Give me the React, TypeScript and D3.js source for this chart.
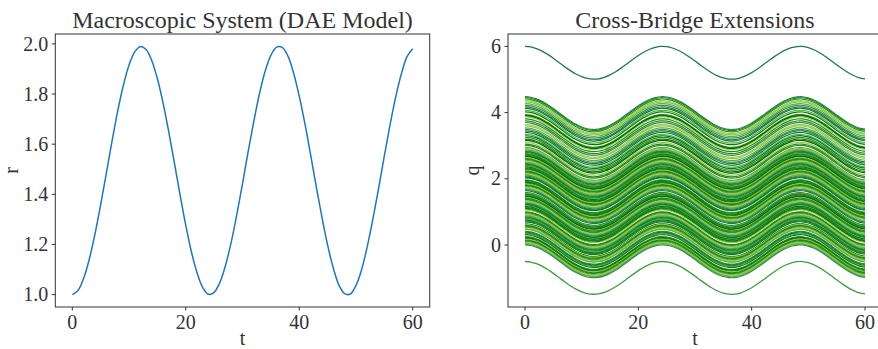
import * as d3 from 'd3';

// macroscopic r(t), every 1 time unit
const tValues = d3.range(0, 61);
const rValues = [
  1.0, 1.016, 1.065, 1.142, 1.242, 1.359, 1.485, 1.612, 1.732, 1.835, 1.916,
  1.968, 1.99, 1.978, 1.934, 1.861, 1.764, 1.649, 1.524, 1.397, 1.276,
  1.17, 1.086, 1.028, 1.001, 1.009, 1.048, 1.116, 1.208, 1.32, 1.442,
  1.571, 1.692, 1.802, 1.892, 1.954, 1.987, 1.986, 1.952, 1.884, 1.792,
  1.682, 1.559, 1.431, 1.309, 1.198, 1.106, 1.038, 1.004, 1.002, 1.036,
  1.1, 1.192, 1.303, 1.425, 1.553, 1.676, 1.788, 1.88, 1.949, 1.981
];

// initial cross-bridge extensions q(0)
const bandOffsets = [
  4.48, 4.45, 4.41, 4.36, 4.32, 4.27, 4.22, 4.17, 4.13, 4.07, 4.02, 3.94, 3.92, 3.9,
  3.87, 3.81, 3.75, 3.7, 3.64, 3.6, 3.54, 3.49, 3.45, 3.4, 3.34, 3.3, 3.25, 3.2,
  3.16, 3.1, 3.05, 3.01,
  2.94, 2.92, 2.89, 2.87, 2.84, 2.82, 2.79, 2.77, 2.74, 2.72, 2.69, 2.67, 2.64, 2.61,
  2.59, 2.56, 2.54, 2.51, 2.49, 2.46, 2.44, 2.41, 2.39, 2.36, 2.33, 2.31, 2.28, 2.26,
  2.23, 2.21, 2.18, 2.16, 2.13, 2.11, 2.08, 2.05, 2.03,
  1.97, 1.95, 1.92, 1.9, 1.87, 1.85, 1.82, 1.8, 1.77, 1.75, 1.72, 1.69, 1.67, 1.64,
  1.58, 1.56, 1.53, 1.51, 1.48, 1.46, 1.43, 1.41, 1.38, 1.36, 1.33, 1.31, 1.28, 1.26,
  1.23, 1.21, 1.18, 1.16, 1.13, 1.11, 1.08, 1.06,
  1.0, 0.98, 0.95, 0.93, 0.9, 0.88, 0.85, 0.83, 0.8, 0.78, 0.75, 0.73, 0.7,
  0.64, 0.62, 0.59, 0.57, 0.54, 0.52, 0.49, 0.47,
  0.41, 0.39, 0.36, 0.34, 0.31,
  0.25, 0.23, 0.2, 0.18, 0.15, 0.13, 0.1, 0.08, 0.05, 0.03, 0.0
];
const outlierOffsets = [6.0, -0.5];

const xTicks = [0, 20, 40, 60];
const rTicks = [1.0, 1.2, 1.4, 1.6, 1.8, 2.0];
const qTicks = [0, 2, 4, 6];

const greens = ['#228b22', '#1a7f3c', '#9acd32', '#008000', '#2e8b57', '#006400', '#5cb03c', '#1e8a1e', '#0f7a2a', '#86c94a'];
const outlierColors = ['#1f7a45', '#3f9c3f'];

const W = 878;
const H = 349;
const TOP = 34;
const BOTTOM = 307;
const FONT = '"Liberation Serif", "Times New Roman", serif';
const INK = '#333';

function Panel({ x0, x1, yDomain, yTicks, yFmt, yLabel, yLabelX, title, children }) {
  const x = d3.scaleLinear().domain([-3, 63]).range([x0, x1]);
  const y = d3.scaleLinear().domain(yDomain).range([BOTTOM, TOP]);
  return (
    <g>
      {children(x, y)}
      <rect x={x0} y={TOP} width={x1 - x0} height={BOTTOM - TOP} fill="none" stroke={INK} strokeWidth={1} />
      {xTicks.map((t) => (
        <g key={t} transform={`translate(${x(t)},${BOTTOM})`}>
          <line y2={3.5} stroke={INK} />
          <text y={22} textAnchor="middle" fontSize={20} fill={INK}>{t}</text>
        </g>
      ))}
      {yTicks.map((v) => (
        <g key={v} transform={`translate(${x0},${y(v)})`}>
          <line x2={-3.5} stroke={INK} />
          <text x={-7} dy="0.33em" textAnchor="end" fontSize={20} fill={INK}>{yFmt(v)}</text>
        </g>
      ))}
      <text x={(x0 + x1) / 2} y={345} textAnchor="middle" fontSize={20} fill={INK}>t</text>
      <text transform={`translate(${yLabelX},${(TOP + BOTTOM) / 2}) rotate(-90)`} textAnchor="middle" fontSize={20} fill={INK}>{yLabel}</text>
      <text x={(x0 + x1) / 2} y={28} textAnchor="middle" fontSize={24} fill={INK}>{title}</text>
    </g>
  );
}

export default function App() {
  const pts = tValues.map((t, i) => [t, rValues[i]]);
  return (
    <svg width={W} height={H} style={{ position: 'absolute', left: 0, top: 0, background: '#fff' }} fontFamily={FONT}>
      <Panel
        x0={55.3}
        x1={429.7}
        yDomain={[0.9505, 2.0395]}
        yTicks={rTicks}
        yFmt={(v) => v.toFixed(1)}
        yLabel="r"
        yLabelX={18}
        title="Macroscopic System (DAE Model)"
      >
        {(x, y) => {
          const line = d3.line().x((d) => x(d[0])).y((d) => y(d[1])).curve(d3.curveCatmullRom);
          return <path d={line(pts) || ''} fill="none" stroke="#1f77b4" strokeWidth={1.5} />;
        }}
      </Panel>
      <Panel
        x0={508}
        x1={882}
        yDomain={[-1.875, 6.375]}
        yTicks={qTicks}
        yFmt={(v) => String(v)}
        yLabel="q"
        yLabelX={479}
        title="Cross-Bridge Extensions"
      >
        {(x, y) => {
          const lineFor = (q0) =>
            d3.line().x((d) => x(d[0])).y((d) => y(q0 - (d[1] - 1))).curve(d3.curveCatmullRom)(pts) || '';
          return (
            <g>
              {outlierOffsets.map((q0, i) => (
                <path key={`o${i}`} d={lineFor(q0)} fill="none" stroke={outlierColors[i]} strokeWidth={1.3} />
              ))}
              {bandOffsets.map((q0, i) => (
                <path
                  key={i}
                  d={lineFor(q0)}
                  fill="none"
                  stroke={greens[(i * 7 + Math.floor(i / 3)) % greens.length]}
                  strokeWidth={1.2}
                />
              ))}
            </g>
          );
        }}
      </Panel>
    </svg>
  );
}
